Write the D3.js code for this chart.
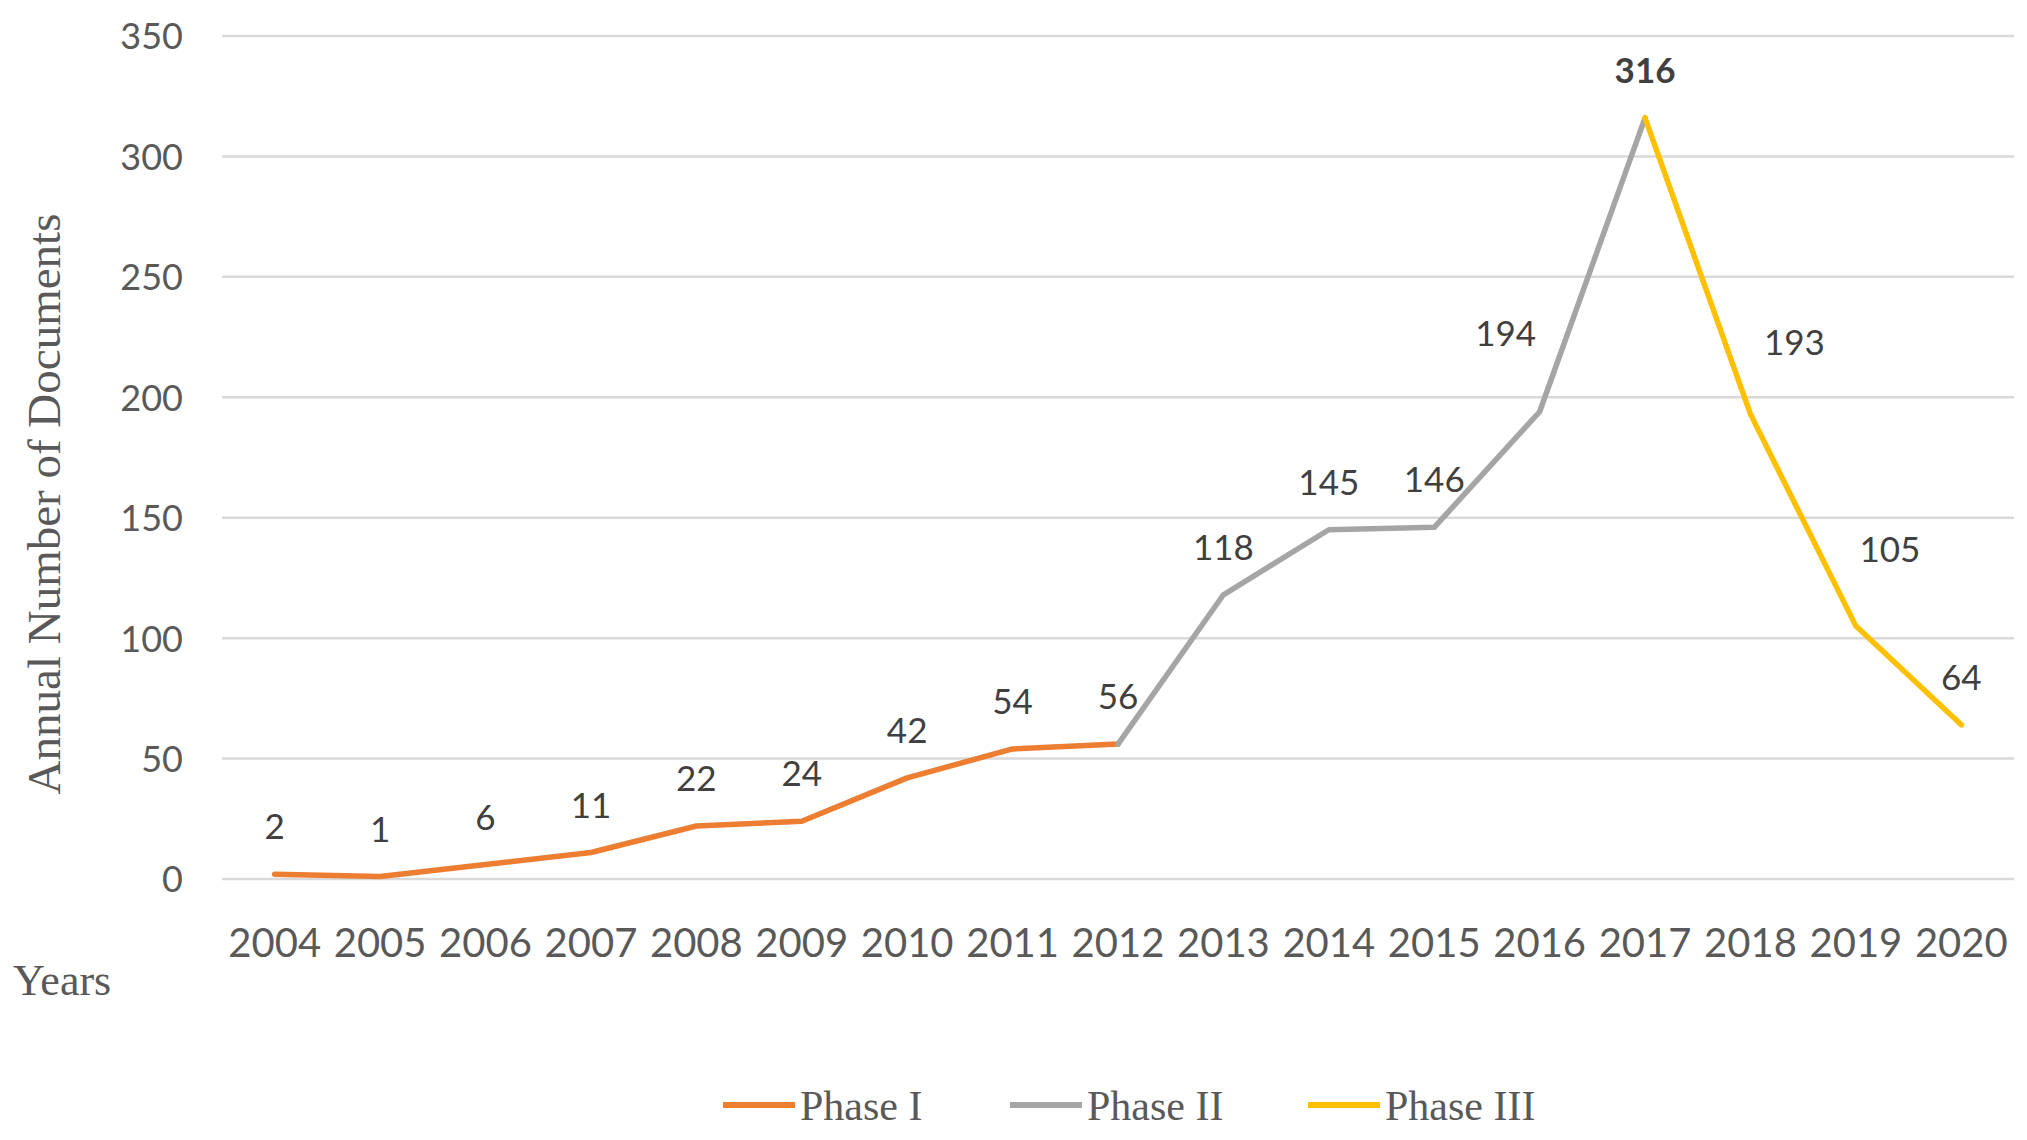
<!DOCTYPE html>
<html><head><meta charset="utf-8">
<script src="https://cdn.jsdelivr.net/npm/d3@7"></script>
<style>html,body{margin:0;padding:0;background:#fff;}svg{display:block;}</style>
</head><body>
<script>
const years = [2004,2005,2006,2007,2008,2009,2010,2011,2012,2013,2014,2015,2016,2017,2018,2019,2020];
const values = [2,1,6,11,22,24,42,54,56,118,145,146,194,316,193,105,64];
const yTicks = [0,50,100,150,200,250,300,350];
const phaseNames = ["Phase I","Phase II","Phase III"];
const phaseStart = [2004,2012,2017];
const phaseEnd = [2012,2017,2020];
const phaseColors = ["#ED7D31","#A5A5A5","#FFC000"];
// label nudges (Excel collision avoidance)
const labelNudge = {2016:[-34,-31],2018:[44,-24],2019:[34,-29]};

const W=2027,H=1140;
const svg=d3.select("body").append("svg").attr("width",W).attr("height",H);
const x=d3.scaleBand().domain(years).range([222,2014]);
const y=d3.scaleLinear().domain([0,350]).range([879,36]);
const cx=d=>x(d)+x.bandwidth()/2;

// gridlines
svg.append("g").selectAll("line").data(yTicks).join("line")
  .attr("x1",222).attr("x2",2014).attr("y1",d=>y(d)).attr("y2",d=>y(d))
  .attr("stroke","#d9d9d9").attr("stroke-width",2.5);

// y axis
const ya=svg.append("g").attr("transform","translate(183,0)")
  .call(d3.axisLeft(y).tickValues(yTicks).tickSize(0).tickPadding(0));
ya.select(".domain").remove();
ya.selectAll("text").attr("font-family","Lato").attr("font-size",36).attr("fill","#595959")
  .attr("dy","0.36em");

// x axis
const xa=svg.append("g").attr("transform","translate(0,957)")
  .call(d3.axisBottom(x).tickSize(0).tickPadding(0));
xa.select(".domain").remove();
xa.selectAll("text").attr("font-family","Lato").attr("font-size",40).attr("fill","#595959")
  .attr("dy","0");

// lines
const line=d3.line().x(d=>cx(d.year)).y(d=>y(d.value));
const pts=years.map((yr,i)=>({year:yr,value:values[i]}));
phaseNames.forEach((n,k)=>{
  const seg=pts.filter(p=>p.year>=phaseStart[k]&&p.year<=phaseEnd[k]);
  svg.append("path").datum(seg).attr("d",line).attr("fill","none")
    .attr("stroke",phaseColors[k]).attr("stroke-width",5.5)
    .attr("stroke-linejoin","round").attr("stroke-linecap","round");
});

// data labels
svg.append("g").selectAll("text").data(pts).join("text")
  .attr("x",d=>cx(d.year)+((labelNudge[d.year]||[0,0])[0]))
  .attr("y",d=>y(d.value)-35+((labelNudge[d.year]||[0,0])[1]))
  .attr("text-anchor","middle").attr("font-family","Lato").attr("font-size",35)
  .attr("fill","#404040").attr("font-weight",d=>d.value===d3.max(values)?"bold":"normal")
  .text(d=>d.value);

// axis titles
svg.append("text").attr("transform","translate(60,504) rotate(-90)")
  .attr("text-anchor","middle").attr("font-family","Liberation Serif").attr("font-size",47)
  .attr("fill","#595959").text("Annual Number of Documents");
svg.append("text").attr("x",13).attr("y",995)
  .attr("font-family","Liberation Serif").attr("font-size",44)
  .attr("fill","#595959").text("Years");

// legend
const legX=[723,1010,1308];
const lg=svg.append("g");
phaseNames.forEach((n,k)=>{
  lg.append("line").attr("x1",legX[k]).attr("x2",legX[k]+72).attr("y1",1105).attr("y2",1105)
    .attr("stroke",phaseColors[k]).attr("stroke-width",6);
  lg.append("text").attr("x",legX[k]+77).attr("y",1120).attr("font-family","Liberation Serif")
    .attr("font-size",42).attr("fill","#595959").text(n);
});
</script>
</body></html>
